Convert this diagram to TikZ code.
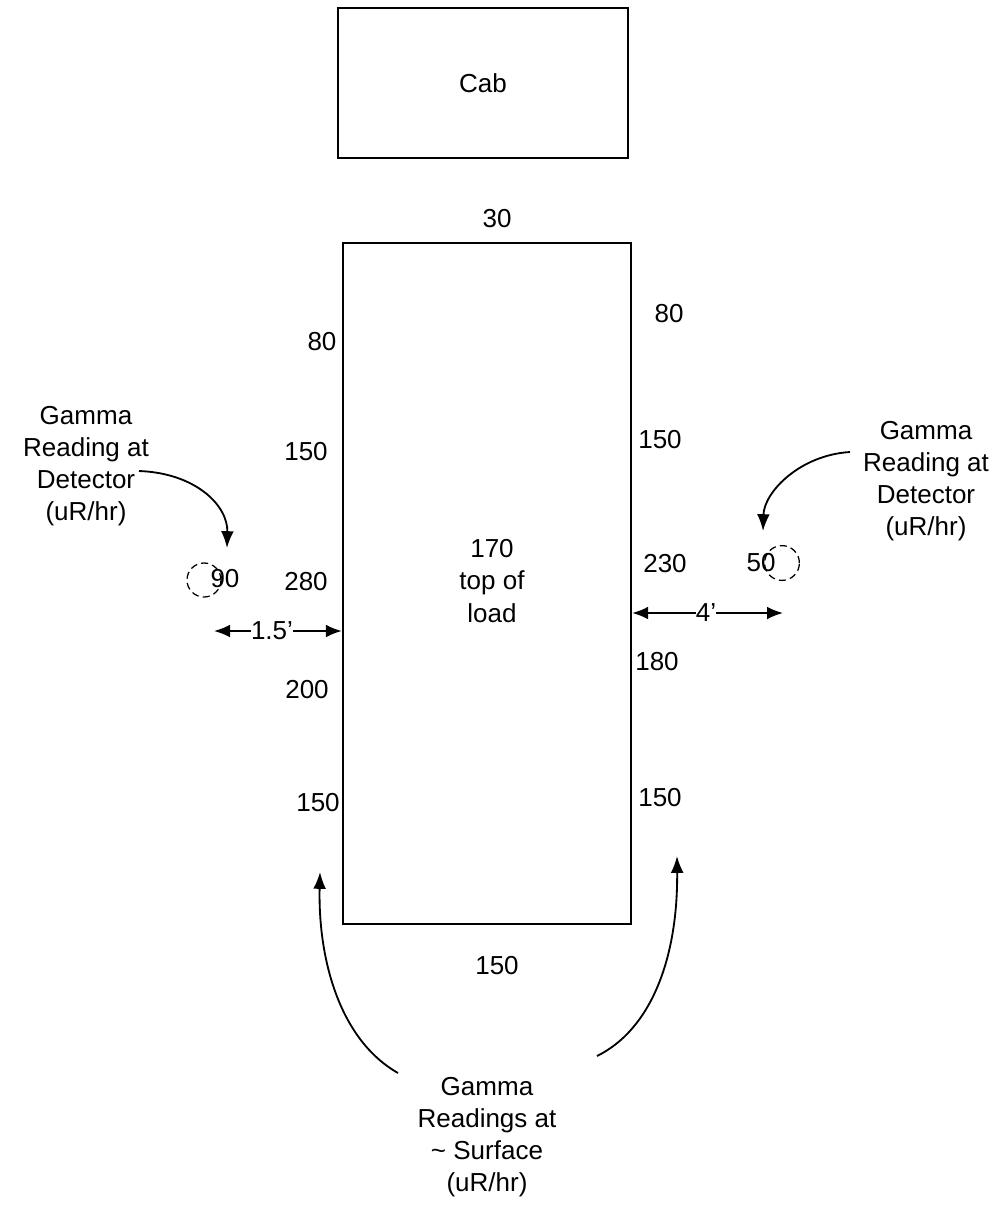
\documentclass[tikz,border=0pt]{standalone}
\usepackage{fontspec}
\setmainfont{Liberation Sans}
\usetikzlibrary{arrows.meta,positioning,calc}

\begin{document}
\begin{tikzpicture}[
      x=0.025cm, y=-0.025cm,
      every node/.style={font=\fontsize{18.5}{22.8}\selectfont, inner sep=0pt},
      box/.style={draw, line width=1.6pt},
      num/.style={anchor=center},
      note/.style={align=center},
      ring/.style={draw, circle, line width=0.9pt, dash pattern=on 5pt off 3pt},
      arr/.style={-{Latex[length=4.2mm, width=3.2mm]}, line width=1.3pt},
      dim/.style={-{Latex[length=4mm, width=3.2mm]}, line width=1.3pt}
  ]
    \useasboundingbox (0,0) rectangle (1001,1205);

    % --- Cab and load ---
    \node[box, minimum width=7.25cm, minimum height=3.75cm] (cab) at (483,83) {Cab};
    \node[box, minimum width=7.2cm, minimum height=17.03cm] (load) at (487,583.5) {};
    \node[note] (top) at (492,581) {170\\top of\\load};

    % --- surface readings ---
    \node[num] (n30) at (497,219) {30};
    \node[num] (n150b) at (497,966) {150};
    % left side
    \node[num] (l80) at (322,342) {80};
    \node[num] (l150a) at (306,452) {150};
    \node[num] (l280) at (306,582) {280};
    \node[num] (l200) at (307,690) {200};
    \node[num] (l150b) at (318,803) {150};
    % right side
    \node[num] (r80) at (669,314) {80};
    \node[num] (r150a) at (660,440) {150};
    \node[num] (r230) at (665,564) {230};
    \node[num] (r180) at (657,662) {180};
    \node[num] (r150b) at (660,798) {150};

    % --- detector readings ---
    \node[num] (d90) at (225,579) {90};
    \node[ring, minimum size=0.85cm] (c90) at (204,580) {};
    \node[num] (d50) at (761,563) {50};
    \node[ring, minimum size=0.87cm] (c50) at (782,563) {};

    % --- notes ---
    \node[note] (gl) at (86,466) {Gamma\\Reading at\\Detector\\(uR/hr)};
    \node[note] (gr) at (926,481) {Gamma\\Reading at\\Detector\\(uR/hr)};
    \node[note] (gs) at (487,1137) {Gamma\\Readings at\\\textasciitilde{} Surface\\(uR/hr)};

    \coordinate (gl-out) at (139,471);
    \coordinate (c90-in) at (227,548);
    \coordinate (gr-out) at (850,452);
    \coordinate (c50-in) at (763,531);
    \coordinate (gs-left) at (398,1073);
    \coordinate (l-in) at (320,872);
    \coordinate (gs-right) at (597,1056);
    \coordinate (r-in) at (677,856);

    \draw[arr] (gl-out) .. controls (195,473) and (228,505) .. (c90-in);
    \draw[arr] (gr-out) .. controls (800,455) and (764,492) .. (c50-in);
    \draw[arr] (gs-left) .. controls (340,1040) and (318,960) .. (l-in);
    \draw[arr] (gs-right) .. controls (650,1030) and (678,960) .. (r-in);

    % --- distances ---
    \node[num] (dl) at (272,631) {1.5'};
    \coordinate (dl-end) at (214,631);
    \draw[dim] (dl.west) -- (dl-end);
    \draw[dim] (dl.east) -- (load.west |- dl);

    \node[num] (dr) at (706,613) {4'};
    \coordinate (dr-end) at (783,613);
    \draw[dim] (dr.west) -- (load.east |- dr);
    \draw[dim] (dr.east) -- (dr-end);

  \end{tikzpicture}
\end{document}
